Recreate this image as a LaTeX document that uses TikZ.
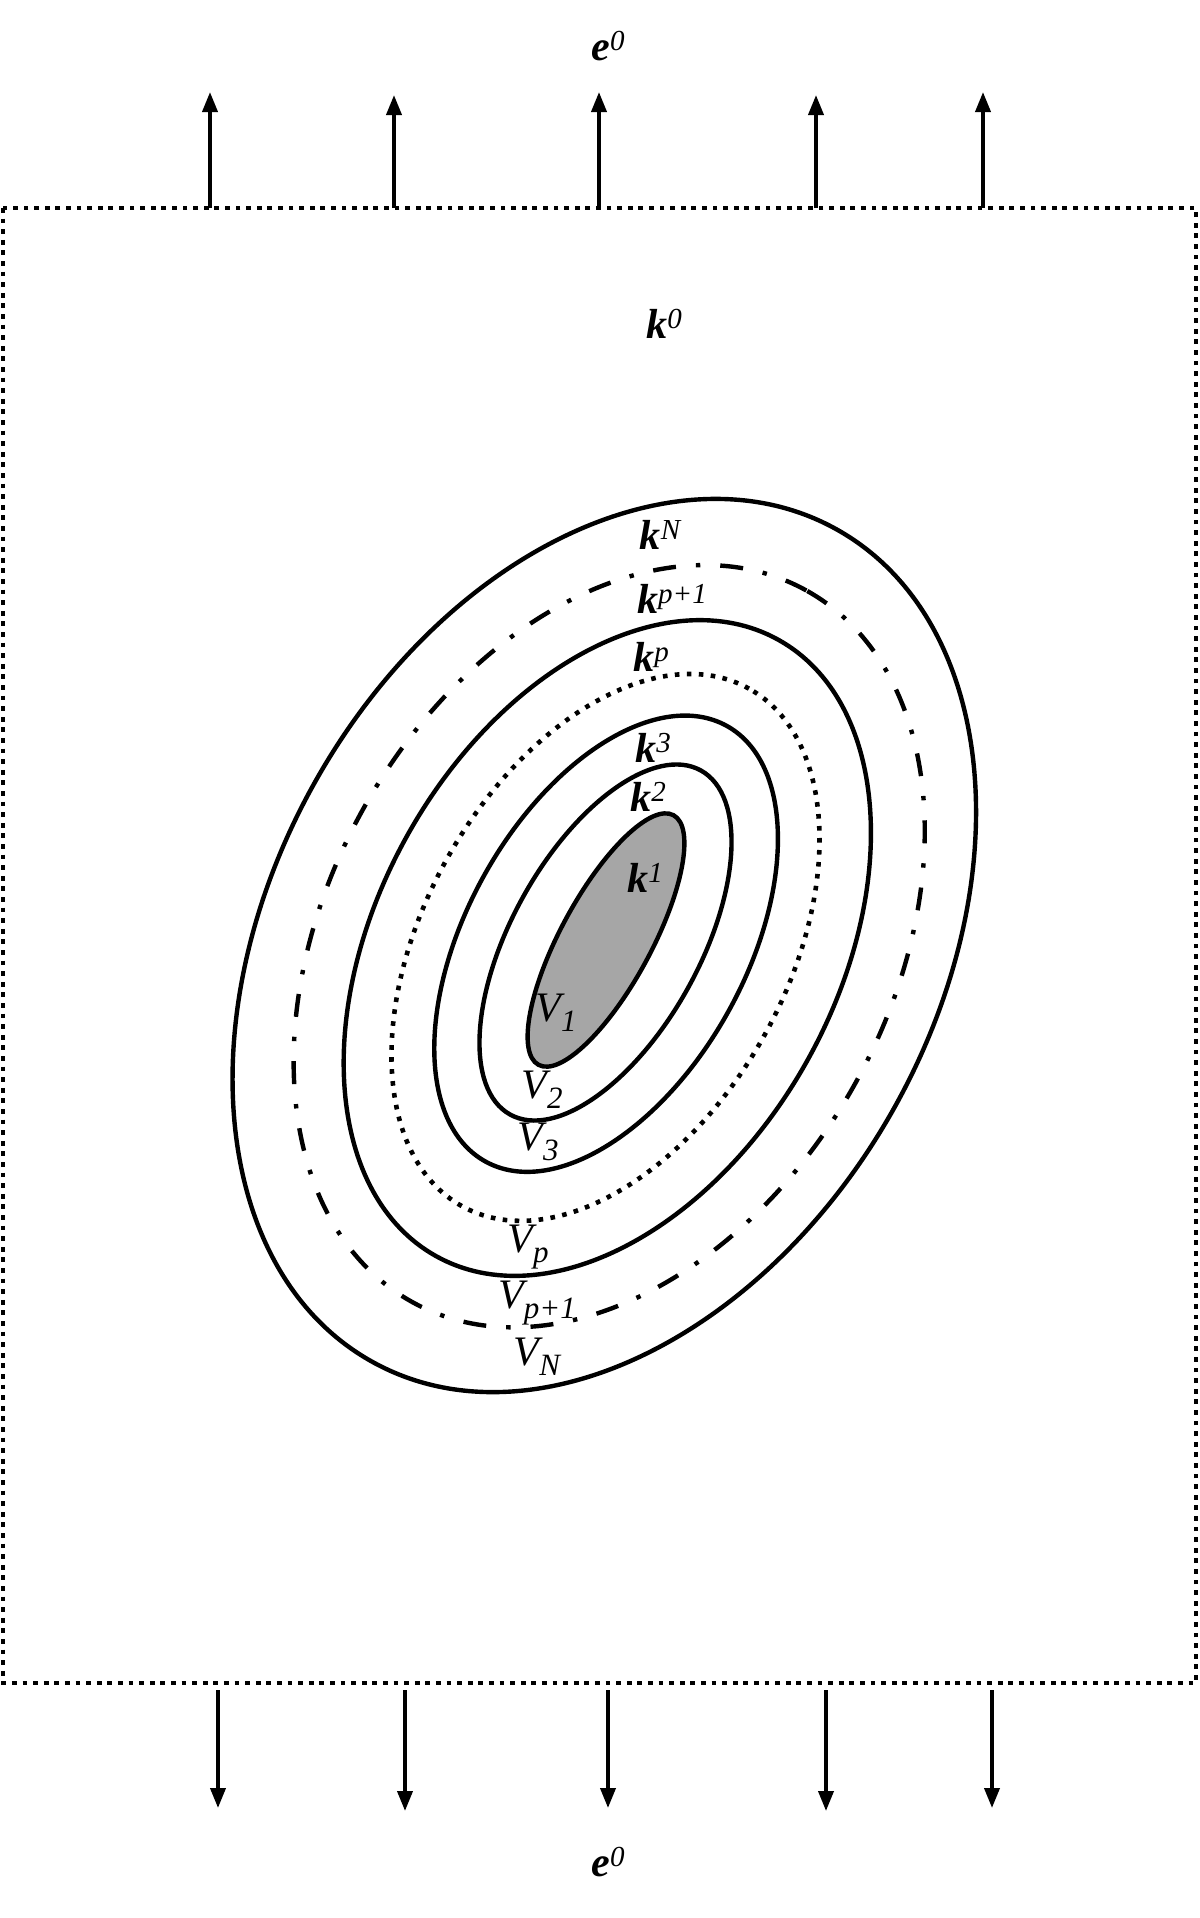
\documentclass[tikz,border=0pt]{standalone}
\usepackage{fontspec}
\setmainfont{Liberation Serif}
\usetikzlibrary{arrows.meta}
\definecolor{fillgray}{RGB}{166,166,166}
\newcommand{\supx}[1]{\raisebox{5pt}{\fontsize{14.5}{14.5}\selectfont\itshape #1}}
\newcommand{\subx}[1]{\raisebox{-5pt}{\fontsize{15.5}{15.5}\selectfont\itshape #1}}
\newcommand{\bk}{{\bfseries\itshape k}}
\newcommand{\be}{{\bfseries\itshape e}}
\begin{document}
\begin{tikzpicture}[x=0.5pt,y=-0.5pt,
  lbl/.style={inner sep=0pt, font=\fontsize{21}{25}\selectfont},
  vlbl/.style={inner sep=0pt, font=\fontsize{21}{25}\selectfont\itshape},
  solidring/.style={line width=2.2pt},
  dotring/.style={line width=2.3pt, dash pattern=on 2.3pt off 3.7pt},
  dashdotring/.style={line width=2.2pt, dash pattern=on 11.5pt off 10pt on 2.2pt off 10pt},
  frame/.style={line width=2.4pt, dash pattern=on 2.4pt off 2.9pt},
  arr/.style={line width=1.9pt, -{Triangle[width=7.5pt,length=10pt]}}]

\useasboundingbox (0,0) rectangle (1200,1918);
\fill[white] (0,0) rectangle (1200,1918);

% frame
\draw[frame] (3,208) rectangle (1196,1683);

% ellipses
\draw[solidring, rotate around={60.8:(604.3,945.5)}] (604.3,945.5) ellipse [x radius=238.3pt, y radius=166.15pt];
\draw[dashdotring, rotate around={61:(609.2,946.2)}] (609.2,946.2) ellipse [x radius=203.35pt, y radius=140.85pt];
\draw[solidring, rotate around={61:(607.3,948)}] (607.3,948) ellipse [x radius=176.25pt, y radius=114.75pt];
\draw[dotring, rotate around={61:(605.5,947.4)}] (605.5,947.4) ellipse [x radius=147.95pt, y radius=90.8pt];
\draw[solidring, rotate around={61:(606.1,943.7)}] (606.1,943.7) ellipse [x radius=124.5pt, y radius=69.9pt];
\draw[solidring, rotate around={61:(605.5,942.5)}] (605.5,942.5) ellipse [x radius=98.35pt, y radius=47.1pt];
\draw[solidring, fill=fillgray, rotate around={61.6:(606,940)}] (606,940) ellipse [x radius=70.95pt, y radius=22.65pt];

% top arrows
\foreach \i/\x/\t in {1/210/92,2/394/95,3/599/92,4/816/95,5/983/92}{
  \coordinate (ts\i) at (\x,208);
  \coordinate (te\i) at (\x,\t);
  \draw[arr] (ts\i) -- (te\i);
}
% bottom arrows
\foreach \i/\x/\t in {1/218/1808,2/405/1811,3/608/1808,4/826/1811,5/992/1808}{
  \coordinate (bs\i) at (\x,1690);
  \coordinate (be\i) at (\x,\t);
  \draw[arr] (bs\i) -- (be\i);
}

% labels
\node[lbl] (etop) at (608,46) {\be\supx{0}};
\node[lbl] (ebot) at (608,1862) {\be\supx{0}};
\node[lbl] (k0) at (664,324) {\bk\supx{0}};
\node[lbl] (kN) at (660,535) {\bk\supx{N}};
\node[lbl] (kp1) at (672,599) {\bk\supx{p+1}};
\node[lbl] (kp) at (651,657) {\bk\supx{p}};
\node[lbl] (k3) at (653,748) {\bk\supx{3}};
\node[lbl] (k2) at (648,797) {\bk\supx{2}};
\node[lbl] (k1) at (645,878) {\bk\supx{1}};
\node[vlbl] (V1) at (556,1013) {V\subx{1}};
\node[vlbl] (V2) at (542,1090) {V\subx{2}};
\node[vlbl] (V3) at (538,1142) {V\subx{3}};
\node[vlbl] (Vp) at (528,1247) {V\subx{p}};
\node[vlbl] (Vp1) at (537,1303) {V\subx{p+1}};
\node[vlbl] (VN) at (537,1357) {V\subx{N}};
\end{tikzpicture}
\end{document}
